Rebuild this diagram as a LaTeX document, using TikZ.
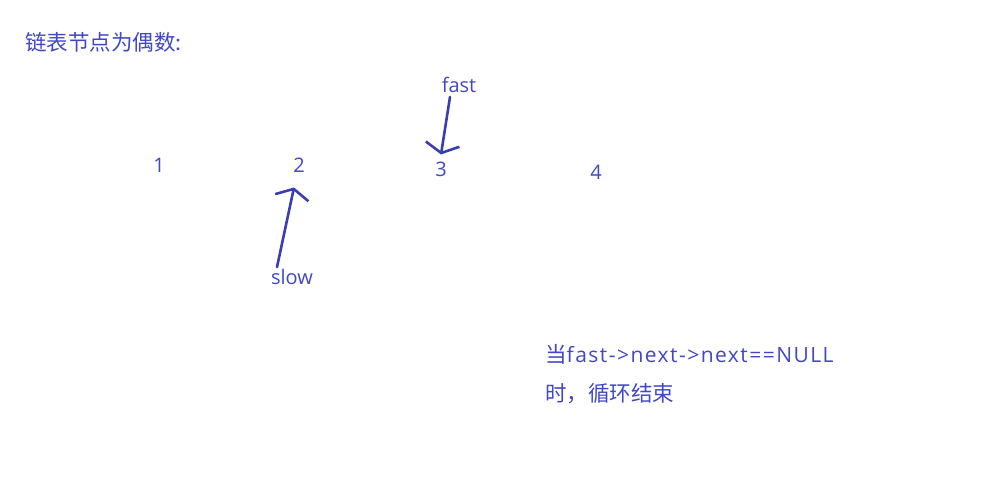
\documentclass[tikz,border=0pt]{standalone}
\usepackage{fontspec}
\newfontfamily\cjk{Noto Sans CJK SC}
\newfontfamily\latin{Open Sans}
\newfontfamily\latinwide[LetterSpace=7]{Open Sans}
\usepackage{tikz}
\usetikzlibrary{positioning,arrows.meta}
\definecolor{inkblue}{RGB}{66,72,196}
\definecolor{penblue}{RGB}{58,62,178}

\begin{document}
\begin{tikzpicture}[
  x=1pt, y=-1pt,
  label/.style={text=inkblue, font=\cjk\fontsize{21.5}{24}\selectfont, inner sep=0pt},
  word/.style={text=inkblue, font=\latin\fontsize{20}{24}\selectfont, inner sep=0pt},
  digit/.style={text=inkblue, font=\latin\fontsize{20}{24}\selectfont, inner sep=0pt},
  pointer/.style={penblue, line width=2.6pt, line cap=round,
                  -{Straight Barb[length=9pt, width=34pt, line width=2.6pt]}}
]
\useasboundingbox[fill=white] (0,0) rectangle (999,496);

\node[label, anchor=west] (title) at (25,42) {链表节点为偶数:};

% list nodes
\node[digit] (n1) at (159,165) {1};
\node[digit] (n2) at (299,165) {2};
\node[digit] (n3) at (441,169) {3};
\node[digit] (n4) at (596,172) {4};

% pointers
\node[word] (fast) at (459,85) {fast};
\node[word] (slow) at (292,277) {slow};

\draw[pointer] ([xshift=-9pt, yshift=-4pt]fast.south) -- ([yshift=7pt]n3.north);
\draw[pointer] ([xshift=-15pt, yshift=2pt]slow.north) -- ([xshift=-5pt, yshift=-15pt]n2.south);

% loop condition
\node[label, anchor=west] (cond) at (545,354) {当{\latinwide\fontsize{21}{24}\selectfont fast->next->next==NULL}};
\node[label, anchor=west] (stop) at (545,394) {时，循环结束};

\end{tikzpicture}
\end{document}
